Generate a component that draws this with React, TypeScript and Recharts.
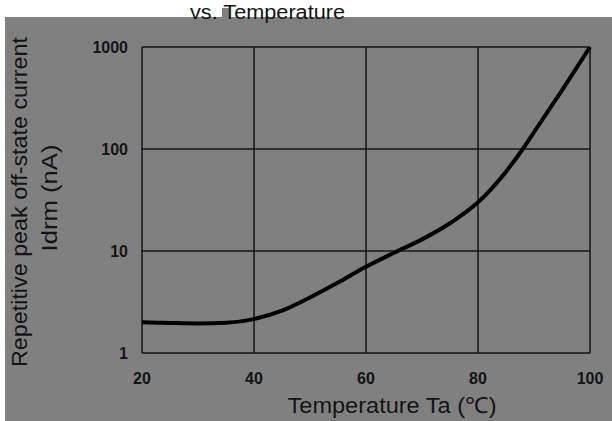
import React from 'react';
import {
  LineChart,
  Line,
  XAxis,
  YAxis,
  CartesianGrid,
} from 'recharts';

// Ambient temperature (°C) and Idrm (nA)
const temps = [20, 25, 30, 35, 40, 45, 50, 55, 60, 65, 70, 75, 80, 85, 88, 90, 95, 100];
const idrm = [2.0, 1.97, 1.95, 1.98, 2.15, 2.6, 3.5, 4.9, 7.0, 9.6, 13, 18.7, 30, 60, 100, 146, 376, 1000];

const xTicks = [20, 40, 60, 80, 100];
const yTicks = [1, 10, 100, 1000];

const title = 'vs. Temperature';
const xLabel = 'Temperature Ta (\u2103)';
const yLabel1 = 'Repetitive peak off-state current';
const yLabel2 = 'Idrm (nA)';

const data = temps.map((t, i) => ({ t, v: idrm[i] }));

const font = '"Liberation Sans", Arial, sans-serif';
const bg = '#808080';
const ink = '#141414';

export default function App() {
  return (
    <div
      style={{
        position: 'absolute',
        left: 0,
        top: 0,
        width: 612,
        height: 421,
        background: '#ffffff',
        overflow: 'hidden',
        fontFamily: font,
      }}
    >
      <div
        style={{ position: 'absolute', left: 5, top: 17, width: 607, height: 404, background: bg }}
      />
      <div style={{ position: 'absolute', left: 0, top: 0 }}>
        <LineChart
          width={612}
          height={421}
          data={data}
          margin={{ top: 47, right: 22, left: 0, bottom: 28 }}
        >
          <CartesianGrid stroke={ink} strokeWidth={1.5} />
          <XAxis
            dataKey="t"
            type="number"
            domain={[20, 100]}
            ticks={xTicks}
            height={40}
            axisLine={false}
            tickLine={false}
            tickSize={0}
            tickMargin={20}
            tick={{ fill: ink, fontSize: 16, fontWeight: 'bold', fontFamily: font }}
          />
          <YAxis
            scale="log"
            domain={[1, 1000]}
            ticks={yTicks}
            allowDataOverflow
            width={142}
            axisLine={false}
            tickLine={false}
            tickSize={0}
            tickMargin={14}
            tick={{ fill: ink, fontSize: 16, fontWeight: 'bold', fontFamily: font }}
          />
          <Line
            type="monotone"
            dataKey="v"
            stroke="#000000"
            strokeWidth={4}
            dot={false}
            isAnimationActive={false}
          />
        </LineChart>
      </div>
      <svg
        width={612}
        height={421}
        style={{ position: 'absolute', left: 0, top: 0, pointerEvents: 'none' }}
      >
        <rect x={222} y={8} width={8} height={9} fill={bg} />
        <text
          x={190}
          y={18.5}
          fontSize={20}
          fill={ink}
          fontFamily={font}
          textLength={155}
          lengthAdjust="spacingAndGlyphs"
        >
          {title}
        </text>
        <text
          x={392}
          y={413}
          fontSize={22}
          fill={ink}
          fontFamily={font}
          textAnchor="middle"
          textLength={209}
          lengthAdjust="spacingAndGlyphs"
        >
          {xLabel}
        </text>
        <text
          x={27}
          y={202}
          fontSize={22}
          fill={ink}
          fontFamily={font}
          textAnchor="middle"
          transform="rotate(-90 27 202)"
          textLength={330}
          lengthAdjust="spacingAndGlyphs"
        >
          {yLabel1}
        </text>
        <text
          x={57}
          y={198}
          fontSize={22}
          fill={ink}
          fontFamily={font}
          textAnchor="middle"
          transform="rotate(-90 57 198)"
          textLength={107}
          lengthAdjust="spacingAndGlyphs"
        >
          {yLabel2}
        </text>
      </svg>
    </div>
  );
}
